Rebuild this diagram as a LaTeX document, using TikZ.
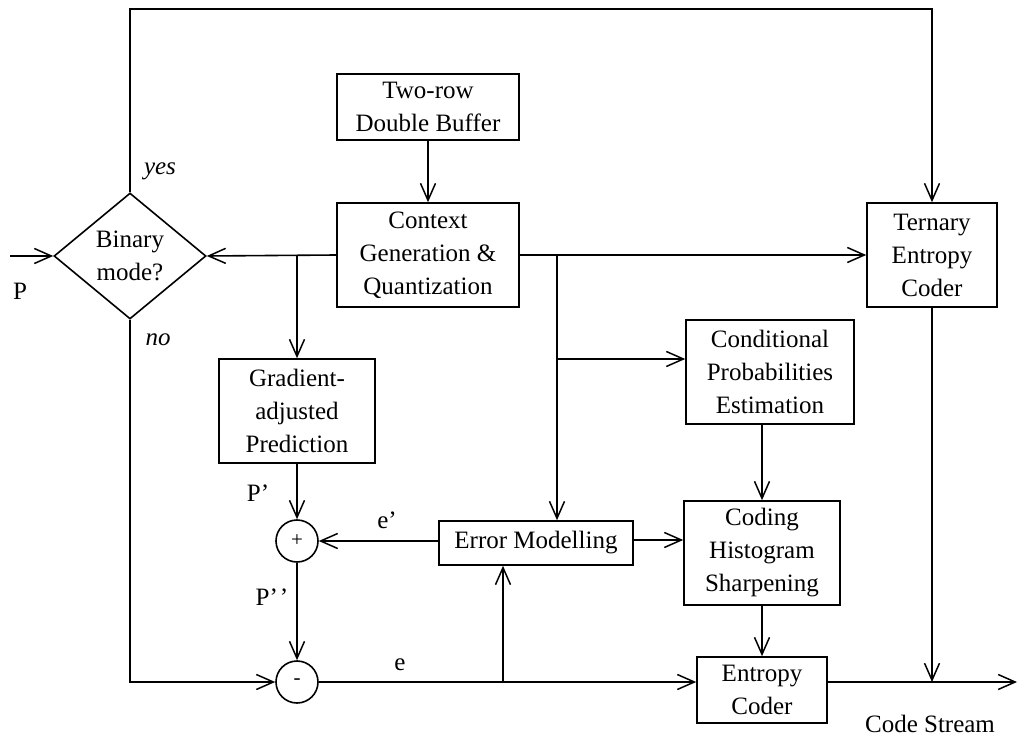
\documentclass[tikz,border=0pt]{standalone}
\usepackage{fontspec}
\setmainfont{Liberation Serif}
\usetikzlibrary{shapes.geometric,arrows.meta}
\begin{document}
\begin{tikzpicture}[x=1pt,y=-1pt,
  font=\fontsize{25}{33}\selectfont,
  line width=1.6pt,
  arr/.style={-{Straight Barb[length=17pt,width=15pt,line width=1.5pt]}},
  box/.style={draw,rectangle,inner sep=0pt,align=center},
  diam/.style={draw,diamond,inner sep=0pt,minimum width=152pt,minimum height=126pt,align=center},
  circ/.style={draw,circle,inner sep=0pt,minimum size=42pt,font=\fontsize{21}{22}\selectfont},
  lbl/.style={inner sep=0pt}]
\useasboundingbox (0,0) rectangle (1018,738);

% blocks
\node[diam] (bin) at (130,256) {Binary\\mode?};
\node[box,minimum width=182pt,minimum height=66pt] (buf) at (428,107) {Two-row\\Double Buffer};
\node[box,minimum width=182pt,minimum height=104pt] (ctx) at (428,255) {Context\\Generation \&\\Quantization};
\node[box,minimum width=130pt,minimum height=104pt] (ter) at (932,255) {Ternary\\Entropy\\Coder};
\node[box,minimum width=168pt,minimum height=104pt] (cond) at (770,372) {Conditional\\Probabilities\\Estimation};
\node[box,minimum width=156pt,minimum height=104pt] (grad) at (297,411) {Gradient-\\adjusted\\Prediction};
\node[circ] (plus) at (297,541) {+};
\node[circ] (minus) at (297,682) {-};
\node[box,minimum width=194pt,minimum height=44pt] (err) at (536,543) {Error Modelling};
\node[box,minimum width=156pt,minimum height=104pt] (hist) at (762,553) {Coding\\Histogram\\Sharpening};
\node[box,minimum width=130pt,minimum height=66pt] (ent) at (762,690) {Entropy\\Coder};

% junctions and free ends
\coordinate (pin) at (10,256);
\coordinate (tl) at (130,9);
\coordinate (tr) at (932,9);
\coordinate (b1) at (297,256);
\coordinate (b2) at (557,256);
\coordinate (b3) at (557,359);
\coordinate (b4) at (503,682);
\coordinate (out) at (1017,682);

% connectors
\draw[arr] (pin) -- (bin.west);
\draw[arr] (bin.north) -- (tl) -- (tr) -- (ter.north);
\draw[arr] (buf.south) -- (ctx.north);
\draw[arr] (ctx.west) -- (bin.east);
\draw[arr] (ctx.east) -- (ter.west);
\draw[arr] (b1) -- (grad.north);
\draw[arr] (b2) -- (b2 |- err.north);
\draw[arr] (b3) -- (b3 -| cond.west);
\draw[arr] (grad.south) -- (plus.north);
\draw[arr] (plus.south) -- (minus.north);
\draw[arr] (err.west |- plus.east) -- (plus.east);
\draw[arr] (bin.south) |- (minus.west);
\draw[arr] (minus.east) -- (minus.east -| ent.west);
\draw[arr] (b4) -- (b4 |- err.south);
\draw[arr] (err.east |- 0,540) -- (hist.west |- 0,540);
\draw[arr] (hist.north |- cond.south) -- (hist.north);
\draw[arr] (hist.south) -- (ent.north);
\draw[arr] (ent.east |- out) -- (out);
\draw[arr] (ter.south) -- (ter.south |- out);

% labels
\node[lbl,font=\fontsize{25}{33}\selectfont\itshape] (yes) at (160,171) {yes};
\node[lbl,font=\fontsize{25}{33}\selectfont\itshape] (no) at (158,340) {no};
\node[lbl] (lp) at (20,291) {P};
\node[lbl] (lp1) at (258,493) {P\textquoteright};
\node[lbl] (lp2) at (272,597) {P\textquoteright\kern2pt\textquoteright};
\node[lbl] (le1) at (387,520) {e\textquoteright};
\node[lbl] (le) at (400,665) {e};
\node[lbl] (cs) at (930,724) {Code Stream};
\end{tikzpicture}
\end{document}
